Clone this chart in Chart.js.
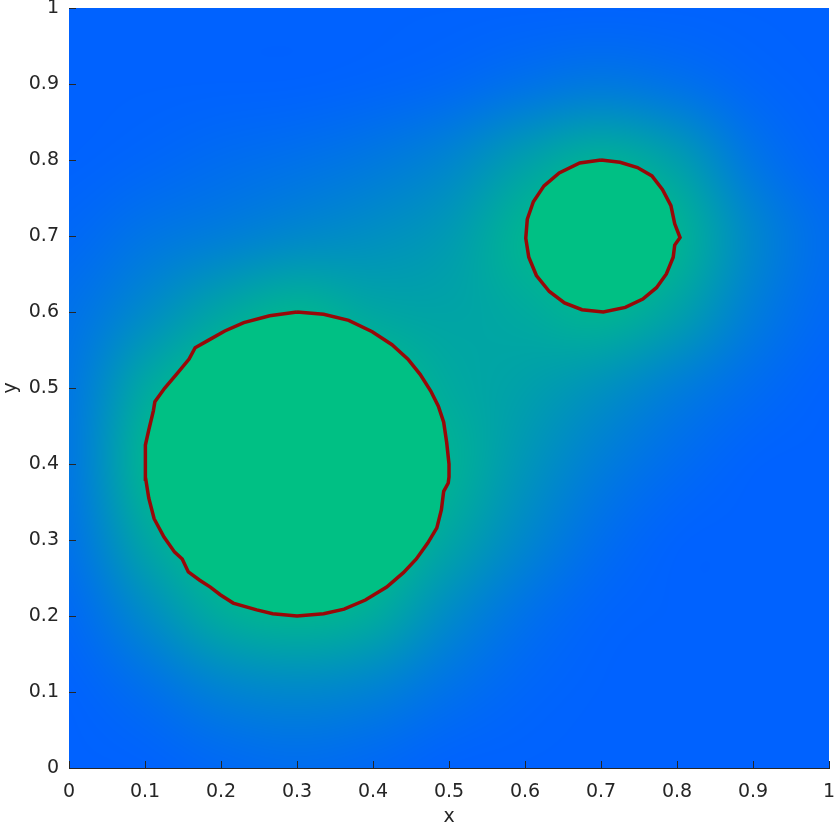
<!DOCTYPE html>
<html>
<head>
<meta charset="utf-8">
<script src="https://cdn.jsdelivr.net/npm/chart.js@4/dist/chart.umd.min.js"></script>
<style>
  html, body { margin: 0; padding: 0; background: #fff; }
  #wrap { width: 837px; height: 828px; position: relative; }
</style>
</head>
<body>
<div id="wrap"><canvas id="c"></canvas></div>
<script>
'use strict';

// axis ticks
const tickValues = [0, 0.1, 0.2, 0.3, 0.4, 0.5, 0.6, 0.7, 0.8, 0.9, 1];
const tickLabels = ['0', '0.1', '0.2', '0.3', '0.4', '0.5', '0.6', '0.7', '0.8', '0.9', '1'];

// background field, level 0 = blue, 1 = green, sampled every 0.1
const fieldX = [0, 0.1, 0.2, 0.3, 0.4, 0.5, 0.6, 0.7, 0.8, 0.9, 1];
const fieldY = [1, 0.9, 0.8, 0.7, 0.6, 0.5, 0.4, 0.3, 0.2, 0.1, 0];
const fieldLevels = [
  [0,    0,    0,    0,    0,    0,    0,    0,    0,    0,    0   ],
  [0,    0,    0,    0,    0.02, 0.05, 0.12, 0.18, 0.12, 0.03, 0   ],
  [0,    0.03, 0.08, 0.12, 0.18, 0.28, 0.5,  0.8,  0.5,  0.15, 0.02],
  [0.05, 0.15, 0.22, 0.3,  0.36, 0.45, 0.85, 1,    0.85, 0.3,  0.08],
  [0.12, 0.32, 0.6,  0.85, 0.6,  0.55, 0.65, 0.85, 0.55, 0.22, 0.05],
  [0.15, 0.65, 1,    1,    1,    0.65, 0.5,  0.38, 0.22, 0.08, 0   ],
  [0.15, 0.85, 1,    1,    1,    0.8,  0.42, 0.22, 0.08, 0,    0   ],
  [0.12, 0.6,  1,    1,    1,    0.6,  0.3,  0.1,  0,    0,    0   ],
  [0.05, 0.32, 0.7,  0.85, 0.7,  0.32, 0.12, 0.02, 0,    0,    0   ],
  [0,    0.1,  0.25, 0.3,  0.25, 0.12, 0.03, 0,    0,    0,    0   ],
  [0,    0,    0.05, 0.08, 0.05, 0,    0,    0,    0,    0,    0   ]
];

// colour stops for the field levels
const levelStops = [0, 0.5, 1];
const stopColors = [[0, 98, 255], [0, 160, 170], [0, 192, 132]];

// contour lines
const bigContourX = [0.300, 0.335, 0.368, 0.399, 0.425, 0.446, 0.462, 0.476, 0.486, 0.493, 0.497, 0.500, 0.500, 0.499,
  0.493, 0.490, 0.484, 0.472, 0.457, 0.440, 0.418, 0.390, 0.362, 0.335, 0.300, 0.268, 0.247, 0.216, 0.199, 0.186,
  0.172, 0.157, 0.149, 0.139, 0.125, 0.112, 0.105, 0.101, 0.100, 0.101, 0.105, 0.111, 0.113, 0.126, 0.143, 0.158,
  0.166, 0.182, 0.205, 0.230, 0.264, 0.300];
const bigContourY = [0.600, 0.597, 0.589, 0.574, 0.557, 0.538, 0.518, 0.496, 0.476, 0.455, 0.428, 0.400, 0.383, 0.375,
  0.364, 0.340, 0.316, 0.296, 0.275, 0.257, 0.238, 0.221, 0.209, 0.203, 0.200, 0.203, 0.208, 0.217, 0.228, 0.238,
  0.247, 0.258, 0.275, 0.284, 0.304, 0.328, 0.355, 0.380, 0.405, 0.425, 0.445, 0.470, 0.482, 0.500, 0.520, 0.538,
  0.553, 0.562, 0.575, 0.586, 0.595, 0.600];
const smallContourX = [0.700, 0.725, 0.748, 0.767, 0.781, 0.792, 0.797, 0.804, 0.797, 0.795, 0.786, 0.773, 0.755,
  0.732, 0.703, 0.675, 0.652, 0.632, 0.615, 0.605, 0.601, 0.603, 0.611, 0.625, 0.645, 0.672, 0.700];
const smallContourY = [0.800, 0.797, 0.790, 0.779, 0.761, 0.740, 0.716, 0.698, 0.688, 0.672, 0.650, 0.632, 0.617,
  0.606, 0.600, 0.603, 0.612, 0.627, 0.648, 0.672, 0.697, 0.722, 0.745, 0.766, 0.783, 0.796, 0.800];

const INK = '#262626';
const FONT = { family: 'DejaVu Sans', size: 19 };

const toPoints = (xs, ys) => xs.map((x, i) => ({ x, y: ys[i] }));

function levelColor(t){
  let k = 0;
  while (k < levelStops.length - 2 && t > levelStops[k+1]) k++;
  const f = (t - levelStops[k]) / (levelStops[k+1] - levelStops[k]);
  return stopColors[k].map((c, i) => Math.round(c + (stopColors[k+1][i] - c) * f));
}

// paints the sampled field under the datasets, placed with the chart scales
const fieldPlugin = {
  id: 'field',
  beforeDatasetsDraw(chart){
    const { ctx, chartArea, scales } = chart;
    const cols = fieldX.length, rows = fieldY.length;
    const off = document.createElement('canvas');
    off.width = cols; off.height = rows;
    const octx = off.getContext('2d');
    const img = octx.createImageData(cols, rows);
    fieldLevels.forEach((row, j) => row.forEach((t, i) => {
      const c = levelColor(t), p = (j * cols + i) * 4;
      img.data[p] = c[0]; img.data[p+1] = c[1]; img.data[p+2] = c[2]; img.data[p+3] = 255;
    }));
    octx.putImageData(img, 0, 0);
    const half = 0.05;
    const x0 = scales.x.getPixelForValue(fieldX[0] - half);
    const x1 = scales.x.getPixelForValue(fieldX[cols-1] + half);
    const y0 = scales.y.getPixelForValue(fieldY[0] + half);
    const y1 = scales.y.getPixelForValue(fieldY[rows-1] - half);
    ctx.save();
    ctx.beginPath();
    ctx.rect(chartArea.left, chartArea.top, chartArea.right - chartArea.left, chartArea.bottom - chartArea.top);
    ctx.clip();
    ctx.imageSmoothingEnabled = true;
    ctx.imageSmoothingQuality = 'high';
    ctx.drawImage(off, x0, y0, x1 - x0, y1 - y0);
    ctx.restore();
  }
};

// inward tick marks on the left and bottom axes
const tickPlugin = {
  id: 'inTicks',
  afterDraw(chart){
    const { ctx, chartArea, scales } = chart;
    ctx.save();
    ctx.strokeStyle = INK;
    ctx.lineWidth = 1;
    ctx.beginPath();
    tickValues.forEach(v => {
      const px = Math.round(scales.x.getPixelForValue(v)) + 0.5;
      ctx.moveTo(px, chartArea.bottom); ctx.lineTo(px, chartArea.bottom - 7);
      const py = Math.round(scales.y.getPixelForValue(v)) + 0.5;
      ctx.moveTo(chartArea.left, py); ctx.lineTo(chartArea.left + 7, py);
    });
    ctx.stroke();
    ctx.restore();
  }
};

function axis(titleText, isX){
  return {
    type: 'linear', min: 0, max: 1, z: 1,
    afterBuildTicks: s => { s.ticks = tickValues.map(v => ({ value: v })); },
    afterFit: s => {
      if (isX) { s.height = 60; s.paddingLeft = 0; s.paddingRight = 0; }
      else { s.width = 69; s.paddingTop = 0; s.paddingBottom = 0; }
    },
    grid: { display: false, drawTicks: false },
    border: { display: true, color: INK, width: 1 },
    ticks: {
      color: INK, font: FONT, padding: isX ? 13 : 10, maxRotation: 0, autoSkip: false,
      callback: (v, i) => tickLabels[i]
    },
    title: {
      display: true, text: titleText, color: INK, font: FONT,
      padding: { top: 0, bottom: 0 }
    }
  };
}

const lineStyle = {
  showLine: true, pointRadius: 0, tension: 0, fill: 'shape',
  borderColor: '#980808', borderWidth: 3.5, backgroundColor: 'rgb(0,192,132)'
};

new Chart(document.getElementById('c'), {
  type: 'scatter',
  data: {
    datasets: [
      Object.assign({ label: 'big', data: toPoints(bigContourX, bigContourY) }, lineStyle),
      Object.assign({ label: 'small', data: toPoints(smallContourX, smallContourY) }, lineStyle)
    ]
  },
  options: {
    responsive: true, maintainAspectRatio: false, animation: false,
    layout: { padding: { top: 8, right: 8, bottom: 0, left: 0 } },
    plugins: { legend: { display: false }, tooltip: { enabled: false } },
    scales: { x: axis('x', true), y: axis('y', false) }
  },
  plugins: [fieldPlugin, tickPlugin]
});
</script>
</body>
</html>
